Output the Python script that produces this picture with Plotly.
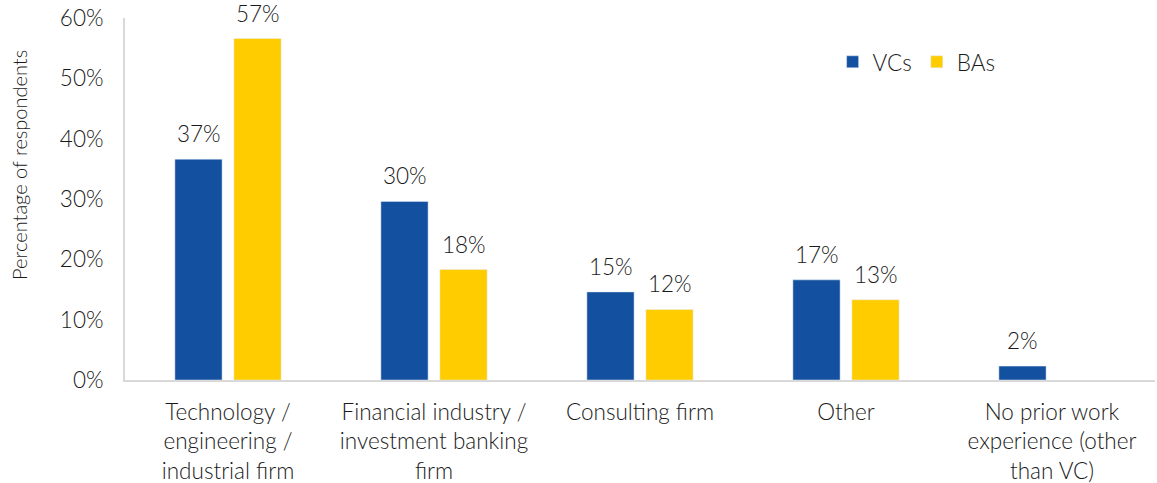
import plotly.graph_objects as go

categories = [
    "Technology /<br>engineering /<br>industrial firm",
    "Financial industry /<br>investment banking<br>firm",
    "Consulting firm",
    "Other",
    "No prior work<br>experience (other<br>than VC)",
]
vcs = [36.6, 29.6, 14.6, 16.6, 2.3]
bas = [56.6, 18.3, 11.7, 13.3, None]

FONT = "Lato"
TXT = "#1a1a1a"
FS = 22.5

fig = go.Figure()
fig.add_trace(go.Bar(x=categories, y=vcs, name="VCs", marker_color="#1450A0", offsetgroup="vc"))
fig.add_trace(go.Bar(x=categories, y=bas, name="BAs", marker_color="#FFCC00", offsetgroup="ba"))

for vals, shift in ((vcs, -29.5), (bas, 29.5)):
    for c, v in zip(categories, vals):
        if v is None:
            continue
        fig.add_annotation(x=c, y=v, text=f"{round(v)}%", showarrow=False,
                           xshift=shift, yshift=10, yanchor="bottom",
                           font=dict(size=FS, color=TXT, family=FONT, weight=300))

# y-axis title (placed as in the reference, slightly above plot-area centre)
fig.add_annotation(xref="paper", yref="paper", x=-0.103, y=0.594, text="Percentage of respondents",
                   textangle=-90, showarrow=False, xanchor="center", yanchor="middle",
                   font=dict(size=20, color=TXT, family=FONT, weight=300))

fig.update_layout(
    width=1157, height=483,
    margin=dict(l=125, r=2, t=18, b=103, autoexpand=False),
    paper_bgcolor="white", plot_bgcolor="white",
    font=dict(family=FONT, color=TXT, size=FS, weight=300),
    barmode="group", bargap=0.427, bargroupgap=0.2,
    showlegend=True,
    legend=dict(orientation="h", x=0.687, y=0.878, xanchor="left", yanchor="middle",
                font=dict(size=FS, color=TXT, family=FONT, weight=300), bgcolor="rgba(0,0,0,0)",
                itemwidth=30, tracegroupgap=0),
)
fig.update_xaxes(
    showline=True, linecolor="#d9d9d9", linewidth=2, showgrid=False, automargin=False,
    ticks="outside", ticklen=11, tickcolor="rgba(0,0,0,0)",
    tickfont=dict(size=FS, color=TXT, family=FONT, weight=300),
)
fig.update_yaxes(
    range=[0, 60], dtick=10, ticksuffix="%", automargin=False,
    showline=True, linecolor="#d9d9d9", linewidth=2, showgrid=False, zeroline=False,
    ticks="outside", ticklen=15, tickcolor="rgba(0,0,0,0)",
    tickfont=dict(size=FS, color=TXT, family=FONT, weight=300),
)

fig.write_html("out.html", config={"displayModeBar": False},
               post_script="document.body.style.margin='0';")
